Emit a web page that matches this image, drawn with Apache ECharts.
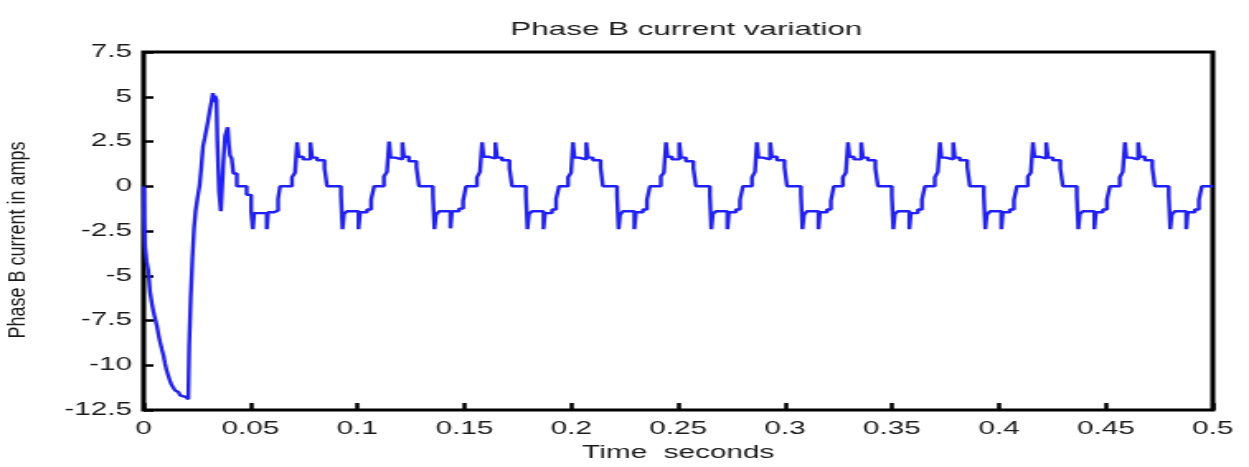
<!DOCTYPE html>
<html>
<head>
<meta charset="utf-8">
<script src="https://cdn.jsdelivr.net/npm/echarts@6/dist/echarts.min.js"></script>
<style>
  html, body {margin: 0; background: #fff; overflow: hidden;}
  /* the source figure is stretched sideways, so the chart is drawn narrow and widened */
  #chart {width: 757px; height: 467px; transform: scaleX(1.65); transform-origin: 0 0;}
</style>
</head>
<body>
<div id="chart"></div>
<script>
// [time s, current A]
const startupWave = [
  [0, 0], [0.0002, -1.9], [0.0007, -3.4], [0.0014, -4.2], [0.0022, -4.7],
  [0.0030, -5.9], [0.0038, -6.5], [0.0046, -7.0], [0.0054, -7.4], [0.0062, -7.8],
  [0.0070, -8.3], [0.0077, -8.7], [0.0085, -9.1], [0.0093, -9.45], [0.0100, -9.9],
  [0.0108, -10.3], [0.0116, -10.6], [0.0124, -10.9], [0.0131, -11.1], [0.0139, -11.25],
  [0.0147, -11.4], [0.0155, -11.5], [0.0163, -11.6], [0.0171, -11.68], [0.0186, -11.78],
  [0.0199, -11.85], [0.0209, -11.9], [0.0213, -8.95], [0.0220, -6.3], [0.0228, -4.1],
  [0.0236, -2.3], [0.0243, -1.4], [0.0252, -0.66], [0.0262, 0.07], [0.0270, 1.08],
  [0.0278, 2.26], [0.0286, 2.7], [0.0294, 3.18], [0.0302, 3.7], [0.0310, 4.28],
  [0.0317, 4.7], [0.0324, 5.2], [0.0330, 4.7], [0.0334, 5.05], [0.0341, 4.8],
  [0.0345, 2.45], [0.0353, -0.3], [0.0361, -1.4], [0.0366, -0.3], [0.0373, 1.35],
  [0.0381, 2.81], [0.0393, 3.3], [0.0399, 2.3], [0.0404, 1.72], [0.0412, 1.55],
  [0.0420, 0.71], [0.0436, 0], [0.0482, -0.48], [0.0503, -1.4], [0.0511, -2.4],
  [0.0517, -1.5], [0.0576, -2.4], [0.0582, -1.45], [0.0610, -1.35], [0.0629, -0.7],
  [0.0638, 0]
];

const steadyWave = [
  [0.0694, 0.5], [0.0708, 0.75], [0.0718, 2.45], [0.0725, 1.65], [0.0746, 1.5], [0.0780, 2.45], [0.0788, 1.6],
  [0.0811, 1.45], [0.0846, 1.0], [0.0858, 0], [0.0923, -0.5], [0.0930, -2.4], [0.0937, -1.55], [0.0951, -1.4],
  [0.1005, -2.4], [0.1012, -1.45], [0.1045, -1.3], [0.1064, -0.75], [0.1078, 0],

  [0.1124, 0.55], [0.1138, 0.8], [0.1148, 2.5], [0.1155, 1.6], [0.1176, 1.5], [0.1210, 2.45], [0.1218, 1.65],
  [0.1241, 1.4], [0.1276, 1.05], [0.1288, 0], [0.1353, -0.45], [0.1360, -2.4], [0.1367, -1.6], [0.1382, -1.4],
  [0.1435, -2.35], [0.1442, -1.4], [0.1475, -1.25], [0.1494, -0.8], [0.1508, 0],

  [0.1559, 0.5], [0.1573, 0.8], [0.1583, 2.45], [0.1590, 1.65], [0.1611, 1.55], [0.1645, 2.45], [0.1653, 1.6],
  [0.1676, 1.45], [0.1711, 1.0], [0.1723, 0], [0.1788, -0.5], [0.1795, -2.4], [0.1802, -1.55], [0.1816, -1.4],
  [0.1870, -2.4], [0.1877, -1.5], [0.1910, -1.3], [0.1929, -0.7], [0.1943, 0],

  [0.1985, 0.5], [0.1999, 0.75], [0.2008, 2.45], [0.2015, 1.6], [0.2036, 1.5], [0.2070, 2.45], [0.2078, 1.6],
  [0.2101, 1.45], [0.2137, 1.05], [0.2148, 0], [0.2214, -0.5], [0.2221, -2.4], [0.2228, -1.6], [0.2242, -1.4],
  [0.2295, -2.4], [0.2302, -1.45], [0.2335, -1.3], [0.2354, -0.75], [0.2368, 0],

  [0.2419, 0.55], [0.2433, 0.75], [0.2443, 2.45], [0.2450, 1.65], [0.2471, 1.5], [0.2505, 2.45], [0.2513, 1.6],
  [0.2536, 1.4], [0.2571, 1.0], [0.2583, 0], [0.2648, -0.5], [0.2655, -2.4], [0.2662, -1.55], [0.2677, -1.4],
  [0.2730, -2.4], [0.2737, -1.45], [0.2770, -1.3], [0.2789, -0.75], [0.2803, 0],

  [0.2845, 0.5], [0.2859, 0.8], [0.2868, 2.45], [0.2875, 1.6], [0.2896, 1.5], [0.2930, 2.45], [0.2938, 1.65],
  [0.2962, 1.45], [0.2997, 1.05], [0.3009, 0], [0.3074, -0.45], [0.3081, -2.4], [0.3088, -1.6], [0.3102, -1.4],
  [0.3156, -2.4], [0.3163, -1.45], [0.3196, -1.3], [0.3214, -0.8], [0.3228, 0],

  [0.3270, 0.5], [0.3284, 0.75], [0.3294, 2.45], [0.3301, 1.65], [0.3322, 1.5], [0.3356, 2.45], [0.3364, 1.6],
  [0.3387, 1.45], [0.3422, 1.0], [0.3434, 0], [0.3499, -0.5], [0.3506, -2.4], [0.3513, -1.55], [0.3527, -1.4],
  [0.3581, -2.4], [0.3588, -1.5], [0.3621, -1.3], [0.3640, -0.75], [0.3654, 0],

  [0.3700, 0.5], [0.3714, 0.8], [0.3724, 2.45], [0.3731, 1.6], [0.3752, 1.5], [0.3786, 2.45], [0.3794, 1.6],
  [0.3817, 1.45], [0.3852, 1.05], [0.3864, 0], [0.3929, -0.5], [0.3936, -2.4], [0.3943, -1.6], [0.3958, -1.4],
  [0.4011, -2.4], [0.4018, -1.45], [0.4051, -1.3], [0.4070, -0.75], [0.4084, 0],

  [0.4135, 0.55], [0.4149, 0.75], [0.4159, 2.45], [0.4166, 1.65], [0.4187, 1.55], [0.4221, 2.45], [0.4229, 1.6],
  [0.4252, 1.45], [0.4287, 1.0], [0.4299, 0], [0.4364, -0.5], [0.4371, -2.4], [0.4378, -1.55], [0.4392, -1.4],
  [0.4446, -2.4], [0.4453, -1.45], [0.4486, -1.3], [0.4505, -0.75], [0.4519, 0],

  [0.4565, 0.5], [0.4579, 0.8], [0.4589, 2.45], [0.4596, 1.6], [0.4617, 1.5], [0.4651, 2.45], [0.4659, 1.65],
  [0.4682, 1.45], [0.4717, 1.05], [0.4729, 0], [0.4794, -0.5], [0.4801, -2.4], [0.4808, -1.6], [0.4822, -1.4],
  [0.4876, -2.4], [0.4883, -1.45], [0.4916, -1.3], [0.4935, -0.75], [0.4949, 0],
  [0.5, 0]
];

const xMin = 0, xMax = 0.5, xStep = 0.05;
const yMin = -12.5, yMax = 7.5, yStep = 2.5;

const font = "'Liberation Sans', Arial, sans-serif";
const ink = '#1a1a1a';

const chart = echarts.init(document.getElementById('chart'));

chart.setOption({
  animation: false,
  backgroundColor: '#fff',
  title: {
    text: 'Phase B current variation',
    left: 411,
    top: 15,
    textAlign: 'center',
    textStyle: {fontFamily: font, fontSize: 19, fontWeight: 'normal', color: ink}
  },
  // black frame round the plot comes from the grid border
  grid: {left: 87, right: 22, top: 52, bottom: 50, show: true, borderColor: '#000', borderWidth: 3},
  xAxis: {
    type: 'value',
    min: xMin, max: xMax, interval: xStep,
    name: 'Time  seconds',
    nameLocation: 'middle',
    nameGap: 34,
    nameTextStyle: {fontFamily: font, fontSize: 18, color: ink},
    axisLine: {show: false, onZero: false},
    axisTick: {show: true, inside: true, length: 7, lineStyle: {color: '#000', width: 2.5}},
    axisLabel: {margin: 10, fontFamily: font, fontSize: 18, color: ink},
    splitLine: {show: false}
  },
  yAxis: {
    type: 'value',
    min: yMin, max: yMax, interval: yStep,
    axisLine: {show: false, onZero: false},
    axisTick: {show: true, inside: true, length: 6, lineStyle: {color: '#000', width: 2.5}},
    axisLabel: {margin: 7, fontFamily: font, fontSize: 18, color: ink},
    splitLine: {show: false}
  },
  graphic: [{
    // y axis title, kept thin so the sideways stretch does not fatten it
    type: 'text',
    x: 10.6,
    y: 240,
    rotation: Math.PI / 2,
    scaleY: 0.8,
    style: {
      text: 'Phase B current in amps',
      fontFamily: font,
      fontSize: 18,
      fill: ink,
      align: 'center',
      verticalAlign: 'middle'
    }
  }],
  series: [{
    type: 'line',
    step: 'end',
    showSymbol: false,
    data: startupWave.concat(steadyWave),
    lineStyle: {color: '#2020ff', width: 2.4}
  }]
});
</script>
</body>
</html>
